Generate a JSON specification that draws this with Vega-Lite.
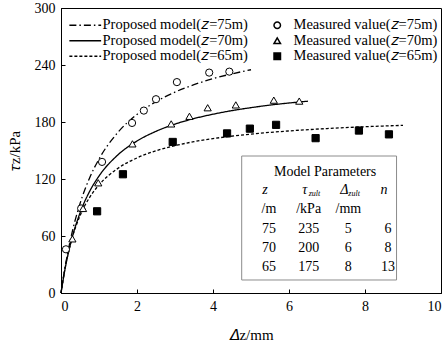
{
  "$schema": "https://vega.github.io/schema/vega-lite/v6.json",
  "width": 380,
  "height": 285,
  "autosize": "none",
  "padding": {"left": 61, "top": 8, "right": 6, "bottom": 54},
  "background": "white",
  "datasets": {
    "curves": [
      {"model": "Proposed model(𝑧=75m)", "d": 0, "t": 0},
      {"model": "Proposed model(𝑧=75m)", "d": 0.1, "t": 25.6},
      {"model": "Proposed model(𝑧=75m)", "d": 0.25, "t": 56.4},
      {"model": "Proposed model(𝑧=75m)", "d": 0.5, "t": 94},
      {"model": "Proposed model(𝑧=75m)", "d": 0.75, "t": 120.9},
      {"model": "Proposed model(𝑧=75m)", "d": 1, "t": 141},
      {"model": "Proposed model(𝑧=75m)", "d": 1.5, "t": 169.2},
      {"model": "Proposed model(𝑧=75m)", "d": 2, "t": 188},
      {"model": "Proposed model(𝑧=75m)", "d": 2.5, "t": 201.4},
      {"model": "Proposed model(𝑧=75m)", "d": 3, "t": 211.5},
      {"model": "Proposed model(𝑧=75m)", "d": 3.5, "t": 219.3},
      {"model": "Proposed model(𝑧=75m)", "d": 4, "t": 225.6},
      {"model": "Proposed model(𝑧=75m)", "d": 4.5, "t": 230.7},
      {"model": "Proposed model(𝑧=75m)", "d": 5, "t": 235},
      {"model": "Proposed model(𝑧=70m)", "d": 0, "t": 0},
      {"model": "Proposed model(𝑧=70m)", "d": 0.1, "t": 23.9},
      {"model": "Proposed model(𝑧=70m)", "d": 0.25, "t": 51.6},
      {"model": "Proposed model(𝑧=70m)", "d": 0.5, "t": 84.2},
      {"model": "Proposed model(𝑧=70m)", "d": 0.75, "t": 106.7},
      {"model": "Proposed model(𝑧=70m)", "d": 1, "t": 123.1},
      {"model": "Proposed model(𝑧=70m)", "d": 1.5, "t": 145.5},
      {"model": "Proposed model(𝑧=70m)", "d": 2, "t": 160},
      {"model": "Proposed model(𝑧=70m)", "d": 2.5, "t": 170.2},
      {"model": "Proposed model(𝑧=70m)", "d": 3, "t": 177.8},
      {"model": "Proposed model(𝑧=70m)", "d": 3.5, "t": 183.6},
      {"model": "Proposed model(𝑧=70m)", "d": 4, "t": 188.2},
      {"model": "Proposed model(𝑧=70m)", "d": 4.5, "t": 192},
      {"model": "Proposed model(𝑧=70m)", "d": 5, "t": 195.1},
      {"model": "Proposed model(𝑧=70m)", "d": 5.5, "t": 197.8},
      {"model": "Proposed model(𝑧=70m)", "d": 6, "t": 200},
      {"model": "Proposed model(𝑧=70m)", "d": 6.5, "t": 201.9},
      {"model": "Proposed model(𝑧=65m)", "d": 0, "t": 0},
      {"model": "Proposed model(𝑧=65m)", "d": 0.1, "t": 24.7},
      {"model": "Proposed model(𝑧=65m)", "d": 0.25, "t": 51.7},
      {"model": "Proposed model(𝑧=65m)", "d": 0.5, "t": 81.3},
      {"model": "Proposed model(𝑧=65m)", "d": 0.75, "t": 100.4},
      {"model": "Proposed model(𝑧=65m)", "d": 1, "t": 113.8},
      {"model": "Proposed model(𝑧=65m)", "d": 1.5, "t": 131.3},
      {"model": "Proposed model(𝑧=65m)", "d": 2, "t": 142.2},
      {"model": "Proposed model(𝑧=65m)", "d": 2.5, "t": 149.7},
      {"model": "Proposed model(𝑧=65m)", "d": 3, "t": 155.1},
      {"model": "Proposed model(𝑧=65m)", "d": 3.5, "t": 159.3},
      {"model": "Proposed model(𝑧=65m)", "d": 4, "t": 162.5},
      {"model": "Proposed model(𝑧=65m)", "d": 5, "t": 167.3},
      {"model": "Proposed model(𝑧=65m)", "d": 6, "t": 170.6},
      {"model": "Proposed model(𝑧=65m)", "d": 7, "t": 173.1},
      {"model": "Proposed model(𝑧=65m)", "d": 8, "t": 175},
      {"model": "Proposed model(𝑧=65m)", "d": 9, "t": 176.5}
    ],
    "measured": [
      {"series": "Measured value(𝑧=75m)", "d": 0.13, "t": 46},
      {"series": "Measured value(𝑧=75m)", "d": 0.53, "t": 89},
      {"series": "Measured value(𝑧=75m)", "d": 1.08, "t": 138},
      {"series": "Measured value(𝑧=75m)", "d": 1.87, "t": 179},
      {"series": "Measured value(𝑧=75m)", "d": 2.18, "t": 192},
      {"series": "Measured value(𝑧=75m)", "d": 2.5, "t": 204},
      {"series": "Measured value(𝑧=75m)", "d": 3.05, "t": 222},
      {"series": "Measured value(𝑧=75m)", "d": 3.9, "t": 232},
      {"series": "Measured value(𝑧=75m)", "d": 4.43, "t": 233},
      {"series": "Measured value(𝑧=70m)", "d": 0.3, "t": 57},
      {"series": "Measured value(𝑧=70m)", "d": 0.58, "t": 89},
      {"series": "Measured value(𝑧=70m)", "d": 0.98, "t": 116},
      {"series": "Measured value(𝑧=70m)", "d": 1.88, "t": 157},
      {"series": "Measured value(𝑧=70m)", "d": 2.9, "t": 178},
      {"series": "Measured value(𝑧=70m)", "d": 3.38, "t": 186},
      {"series": "Measured value(𝑧=70m)", "d": 3.86, "t": 195},
      {"series": "Measured value(𝑧=70m)", "d": 4.6, "t": 198},
      {"series": "Measured value(𝑧=70m)", "d": 5.6, "t": 203},
      {"series": "Measured value(𝑧=70m)", "d": 6.27, "t": 202},
      {"series": "Measured value(𝑧=65m)", "d": 0.95, "t": 86},
      {"series": "Measured value(𝑧=65m)", "d": 1.63, "t": 125},
      {"series": "Measured value(𝑧=65m)", "d": 2.94, "t": 159},
      {"series": "Measured value(𝑧=65m)", "d": 4.37, "t": 168},
      {"series": "Measured value(𝑧=65m)", "d": 4.97, "t": 173},
      {"series": "Measured value(𝑧=65m)", "d": 5.66, "t": 177},
      {"series": "Measured value(𝑧=65m)", "d": 6.7, "t": 163},
      {"series": "Measured value(𝑧=65m)", "d": 7.84, "t": 171},
      {"series": "Measured value(𝑧=65m)", "d": 8.63, "t": 167}
    ],
    "table": [
      {"row": "head", "col": "z", "text": "z", "sub": ""},
      {"row": "head", "col": "tau", "text": "τ", "sub": "zult"},
      {"row": "head", "col": "delta", "text": "Δ", "sub": "zult"},
      {"row": "head", "col": "n", "text": "n", "sub": ""},
      {"row": "unit", "col": "z", "text": "/m", "sub": ""},
      {"row": "unit", "col": "tau", "text": "/kPa", "sub": ""},
      {"row": "unit", "col": "delta", "text": "/mm", "sub": ""},
      {"row": "75", "col": "z", "text": "75", "sub": ""},
      {"row": "75", "col": "tau", "text": "235", "sub": ""},
      {"row": "75", "col": "delta", "text": "5", "sub": ""},
      {"row": "75", "col": "n", "text": "6", "sub": ""},
      {"row": "70", "col": "z", "text": "70", "sub": ""},
      {"row": "70", "col": "tau", "text": "200", "sub": ""},
      {"row": "70", "col": "delta", "text": "6", "sub": ""},
      {"row": "70", "col": "n", "text": "8", "sub": ""},
      {"row": "65", "col": "z", "text": "65", "sub": ""},
      {"row": "65", "col": "tau", "text": "175", "sub": ""},
      {"row": "65", "col": "delta", "text": "8", "sub": ""},
      {"row": "65", "col": "n", "text": "13", "sub": ""}
    ]
  },
  "config": {
    "font": "Liberation Serif",
    "view": {"stroke": "black", "strokeWidth": 1},
    "axis": {
      "grid": false,
      "domainColor": "black",
      "domainWidth": 1,
      "tickColor": "black",
      "tickSize": -4,
      "labelColor": "black",
      "titleColor": "black",
      "labelFont": "Liberation Serif",
      "titleFont": "Liberation Serif",
      "labelFontSize": 14,
      "titleFontSize": 15,
      "titleFontWeight": "normal"
    },
    "legend": {
      "labelFont": "Liberation Serif",
      "labelFontSize": 14.5,
      "labelColor": "black",
      "labelLimit": 300,
      "padding": 0
    }
  },
  "layer": [
    {
      "layer": [
        {
          "data": {"name": "curves"},
          "mark": {"type": "line", "color": "black", "strokeWidth": 1.3, "interpolate": "monotone"},
          "encoding": {
            "x": {"field": "d", "type": "quantitative", "scale": {"domain": [0, 10], "nice": false},
              "axis": {"title": "𝛥z/mm", "values": [0,1,2,3,4,5,6,7,8,9,10], "labelExpr": "datum.value % 2 === 0 ? datum.label : ''", "labelPadding": 10, "titlePadding": 14}},
            "y": {"field": "t", "type": "quantitative", "scale": {"domain": [0, 300], "nice": false},
              "axis": {"title": "𝜏z/kPa", "values": [0,30,60,90,120,150,180,210,240,270,300], "labelExpr": "datum.value % 60 === 0 ? datum.label : ''", "labelPadding": 10, "titlePadding": 12}},
            "strokeDash": {"field": "model", "type": "nominal",
              "scale": {"domain": ["Proposed model(𝑧=75m)", "Proposed model(𝑧=70m)", "Proposed model(𝑧=65m)"],
                        "range": [[7, 3, 1.5, 3], [1, 0], [3, 2]]},
              "legend": {"title": null, "orient": "none", "legendX": 17, "legendY": 10, "symbolType": "M-6,0L6,0", "symbolSize": 28, "symbolStrokeColor": "black", "symbolStrokeWidth": 1.3, "rowPadding": 0.5, "labelOffset": 10}}
          }
        },
        {
          "data": {"name": "measured"},
          "mark": {"type": "point", "filled": true, "stroke": "black", "strokeWidth": 1, "opacity": 1, "size": 52},
          "encoding": {
            "x": {"field": "d", "type": "quantitative"},
            "y": {"field": "t", "type": "quantitative"},
            "shape": {"field": "series", "type": "nominal",
              "scale": {"domain": ["Measured value(𝑧=75m)", "Measured value(𝑧=70m)", "Measured value(𝑧=65m)"],
                        "range": ["circle", "triangle-up", "square"]},
              "legend": {"title": null, "orient": "none", "legendX": 209, "legendY": 10, "symbolSize": 42, "rowPadding": 0.5, "labelOffset": 9,
                "encode": {"symbols": {"update": {
                  "fill": {"signal": "indexof(datum.value, '65m') >= 0 ? 'black' : 'white'"},
                  "stroke": {"value": "black"},
                  "strokeWidth": {"value": 1},
                  "opacity": {"value": 1},
                  "fillOpacity": {"value": 1},
                  "strokeOpacity": {"value": 1}
                }}}}},
            "fill": {"field": "series", "type": "nominal",
              "scale": {"domain": ["Measured value(𝑧=75m)", "Measured value(𝑧=70m)", "Measured value(𝑧=65m)"],
                        "range": ["white", "white", "black"]},
              "legend": null}
          }
        },
        {
          "data": {"values": [{}]},
          "mark": {"type": "rect", "fill": null, "stroke": "#8c8c8c", "strokeWidth": 1},
          "encoding": {
            "x": {"datum": 4.755},
            "x2": {"datum": 8.83},
            "y": {"datum": 144.2},
            "y2": {"datum": 13.7}
          }
        },
        {
          "data": {"values": [{}]},
          "mark": {"type": "text", "text": "Model Parameters", "fontSize": 14, "font": "Liberation Serif", "color": "black", "align": "center", "baseline": "middle"},
          "encoding": {
            "x": {"datum": 6.95},
            "y": {"datum": 127.4}
          }
        }
      ]
    },
    {
      "data": {"name": "table"},
      "encoding": {
        "x": {"field": "col", "type": "nominal", "scale": {"type": "point", "domain": ["z", "tau", "delta", "n"], "range": [207, 326], "padding": 0}, "axis": null},
        "y": {"field": "row", "type": "nominal", "scale": {"type": "point", "domain": ["head", "unit", "75", "70", "65"], "range": [182, 259], "padding": 0}, "axis": null}
      },
      "layer": [
        {
          "transform": [{"filter": "datum.row === 'head'"}],
          "mark": {"type": "text", "fontSize": 14, "fontStyle": "italic", "font": "Liberation Serif", "color": "black", "align": "center", "baseline": "middle", "dx": -3},
          "encoding": {"text": {"field": "text"}}
        },
        {
          "transform": [{"filter": "datum.row === 'head' && datum.sub !== ''"}],
          "mark": {"type": "text", "fontSize": 8, "fontStyle": "italic", "font": "Liberation Serif", "color": "black", "align": "left", "baseline": "middle", "dx": 1, "dy": 4},
          "encoding": {"text": {"field": "sub"}}
        },
        {
          "transform": [{"filter": "datum.row !== 'head'"}],
          "mark": {"type": "text", "fontSize": 14, "font": "Liberation Serif", "color": "black", "align": "center", "baseline": "middle", "dx": 1},
          "encoding": {"text": {"field": "text"}}
        }
      ]
    }
  ],
  "resolve": {"scale": {"x": "independent", "y": "independent"}}
}
